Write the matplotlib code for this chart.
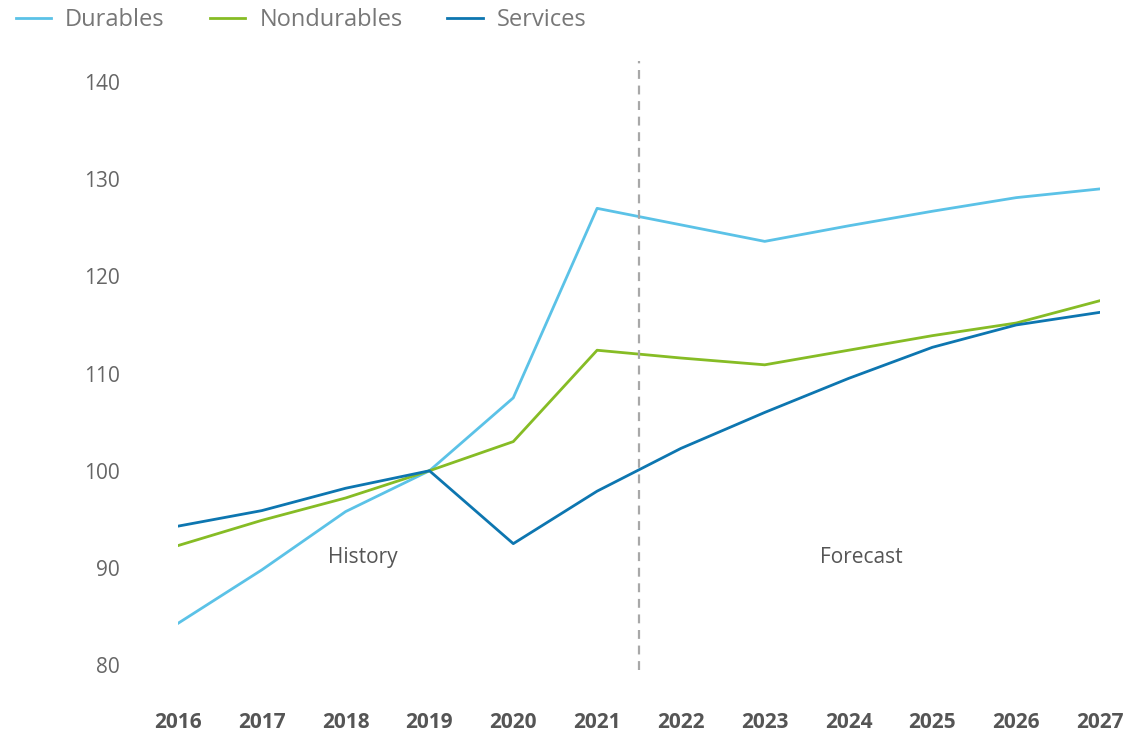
import numpy as np
import matplotlib.pyplot as plt

years = [2016, 2017, 2018, 2019, 2020, 2021, 2022, 2023, 2024, 2025, 2026, 2027]
durables = [84.3, 89.8, 95.8, 100.0, 107.5, 127.0, 125.3, 123.6, 125.2, 126.7, 128.1, 129.0]
nondurables = [92.3, 94.9, 97.2, 100.0, 103.0, 112.4, 111.6, 110.9, 112.4, 113.9, 115.2, 117.5]
services = [94.3, 95.9, 98.2, 100.0, 92.5, 97.9, 102.3, 106.0, 109.5, 112.7, 115.0, 116.3]
yticks = [80, 90, 100, 110, 120, 130, 140]

plt.rcParams['font.family'] = ['Open Sans', 'DejaVu Sans']

fig = plt.figure(figsize=(11.25, 7.32), dpi=100)
# axes placed in pixel terms of the reference
ax = fig.add_axes([178 / 1125, 1 - 670 / 732, (1100 - 178) / 1125, (670 - 60.6) / 732])

ax.plot(years, durables, color='#5bc2e7', lw=2.0, label='Durables')
ax.plot(years, nondurables, color='#86bc25', lw=2.0, label='Nondurables')
ax.plot(years, services, color='#0d76b0', lw=2.0, label='Services')

ax.axvline(2021.5, color='#a8a8a8', lw=1.6, ls=(0, (4, 3)))
ax.text(2018.2, 91.1, 'History', fontsize=15, color='#555555', ha='center', va='center')
ax.text(2024.15, 91.1, 'Forecast', fontsize=15, color='#555555', ha='center', va='center')

ax.set_xlim(2016, 2027)
ax.set_ylim(79.5, 142.2)
ax.set_xticks(years)
ax.set_yticks(yticks)
ax.set_xticklabels([str(y) for y in years], fontsize=15, fontweight='bold', color='#555555')
ax.set_yticklabels([str(v) for v in yticks], fontsize=15, color='#666666')
ax.tick_params(axis='x', length=0, pad=30)
ax.tick_params(axis='y', length=0, pad=42)
for s in ax.spines.values():
    s.set_visible(False)

h, l = ax.get_legend_handles_labels()
fig.legend(h, l, loc='upper left', bbox_to_anchor=(-0.005, 1.018), ncol=3, frameon=False,
           fontsize=17, handlelength=1.5, handletextpad=0.6, columnspacing=1.9,
           labelcolor='#777777')

fig.savefig('out.png', dpi=100)
